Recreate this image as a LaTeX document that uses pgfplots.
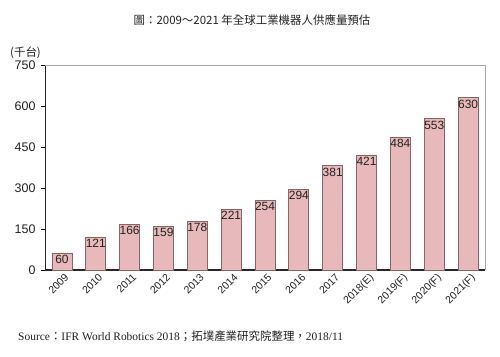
\documentclass[border=0pt]{standalone}
\usepackage{pgfplots}
\pgfplotsset{compat=1.18}
\usepackage{fontspec}
\setmainfont{Liberation Sans}
\newfontfamily\cjk{Noto Sans CJK TC}
\newfontfamily\serif{Liberation Serif}
\definecolor{barfill}{HTML}{E8B9BB}
\definecolor{barline}{HTML}{8A6466}
\definecolor{txt}{HTML}{222222}
\begin{document}
\begin{tikzpicture}[x=1bp,y=1bp]
\path[fill=white] (0,0) rectangle (500,356);
\begin{axis}[
  at={(45bp,86bp)}, anchor=south west,
  scale only axis, width=440bp, height=205bp,
  xmin=-0.5, xmax=12.5, ymin=0, ymax=750,
  ytick={0,150,300,450,600,750},
  xtick={0,...,12},
  xticklabels={2009,2010,2011,2012,2013,2014,2015,2016,2017,2018(E),2019(F),2020(F),2021(F)},
  xtick style={draw=none},
  ytick style={draw=black, thick},
  tick align=outside, tick pos=left,
  major tick length=4bp,
  /pgf/number format/assume math mode=true,
  yticklabel style={font=\fontsize{12.5}{12.5}\selectfont, text=txt, xshift=-2bp},
  xticklabel style={font=\fontsize{10.5}{10.5}\selectfont, text=txt, rotate=45, anchor=north east, inner sep=0.5bp, xshift=3bp},
  separate axis lines,
  x axis line style={draw=black!85, line width=1.2pt},
  y axis line style={draw=black!85, line width=1pt},
  axis x line*=bottom, axis y line*=left,
  clip=false,
]
\addplot[ybar, bar width=0.59, fill=barfill, draw=barline, line width=0.8pt,
  nodes near coords,
  nodes near coords style={font=\fontsize{12}{12}\selectfont, text=txt, anchor=north, inner sep=1.5bp, /pgf/number format/assume math mode=true}]
coordinates {(0,60) (1,121) (2,166) (3,159) (4,178) (5,221) (6,254) (7,294) (8,381) (9,421) (10,484) (11,553) (12,630)};
\end{axis}
\draw[gray!70, line width=0.8pt] (45,291) -- (485,291) -- (485,86);
\node[anchor=center, text=txt] at (252,336) {\fontsize{11.5}{11.5}\selectfont\cjk 圖：2009～2021 年全球工業機器人供應量預估};
\node[anchor=west, text=txt, inner sep=0] at (10,303) {\fontsize{11.5}{11.5}\selectfont\cjk (千台)};
\node[anchor=west, text=txt, inner sep=0] at (18,20) {\fontsize{11.5}{11.5}\selectfont\serif Source\cjk：\serif IFR World Robotics 2018\cjk；拓墣產業研究院整理，\serif 2018/11};
\end{tikzpicture}
\end{document}
